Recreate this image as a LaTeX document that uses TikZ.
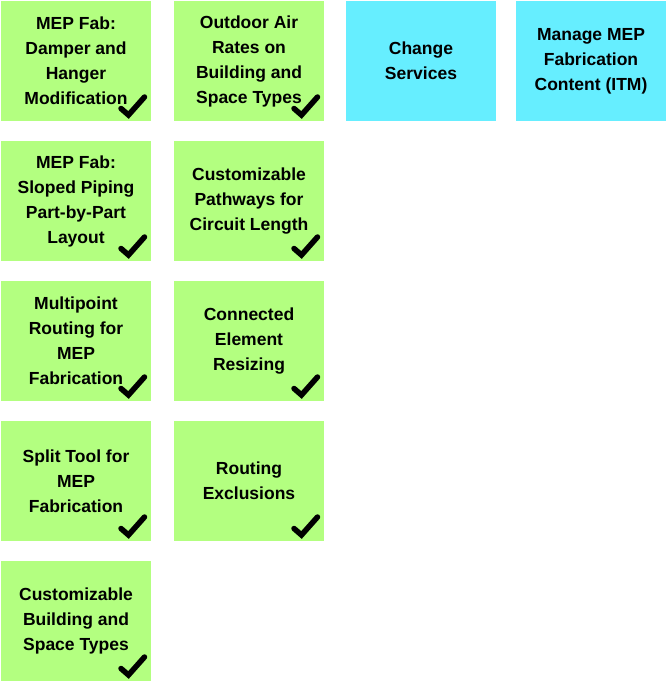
\documentclass[tikz,border=0pt]{standalone}
\usepackage{fontspec}
\setmainfont{Liberation Sans}
\usepackage{tikz}
\usetikzlibrary{positioning}
\definecolor{DoneGreen}{HTML}{B3FF80}
\definecolor{TodoCyan}{HTML}{66EEFF}
\tikzset{
  card/.style={rectangle,minimum width=150pt,minimum height=120pt,inner sep=0pt,outer sep=0pt,align=center,
    font=\bfseries\fontsize{17.5}{25}\selectfont,text=black},
  cardgreen/.style={card,fill=DoneGreen},
  cardcyan/.style={card,fill=TodoCyan},
  tick/.style={black,line width=5.5pt,line cap=round,line join=miter}
}
\begin{document}
\begin{tikzpicture}[x=1pt,y=1pt]
  \useasboundingbox (0,0) rectangle (667,-681);

  % done column 1
  \node[cardgreen,anchor=north west] (damper) at (1,-1) {MEP Fab:\\Damper and\\Hanger\\Modification};
  \node[cardgreen,below=20pt of damper] (sloped) {MEP Fab:\\Sloped Piping\\Part-by-Part\\Layout};
  \node[cardgreen,below=20pt of sloped] (multipoint) {Multipoint\\Routing for\\MEP\\Fabrication};
  \node[cardgreen,below=20pt of multipoint] (split) {Split Tool for\\MEP\\Fabrication};
  \node[cardgreen,below=20pt of split] (spacetypes) {Customizable\\Building and\\Space Types};

  % done column 2
  \node[cardgreen,right=23pt of damper] (outdoor) {Outdoor Air\\Rates on\\Building and\\Space Types};
  \node[cardgreen,below=20pt of outdoor] (pathways) {Customizable\\Pathways for\\Circuit Length};
  \node[cardgreen,below=20pt of pathways] (resizing) {Connected\\Element\\Resizing};
  \node[cardgreen,below=20pt of resizing] (exclusions) {Routing\\Exclusions};

  % open items
  \node[cardcyan,right=22pt of outdoor] (services) {Change\\Services};
  \node[cardcyan,right=20pt of services] (itm) {Manage MEP\\Fabrication\\Content (ITM)};

  % check marks
  \foreach \n in {damper,sloped,multipoint,split,spacetypes,outdoor,pathways,resizing,exclusions}{
    \draw[tick,shift={(\n.south east)}] (-30,12.5) -- (-22.5,6) -- (-6.5,24);
  }
\end{tikzpicture}
\end{document}
